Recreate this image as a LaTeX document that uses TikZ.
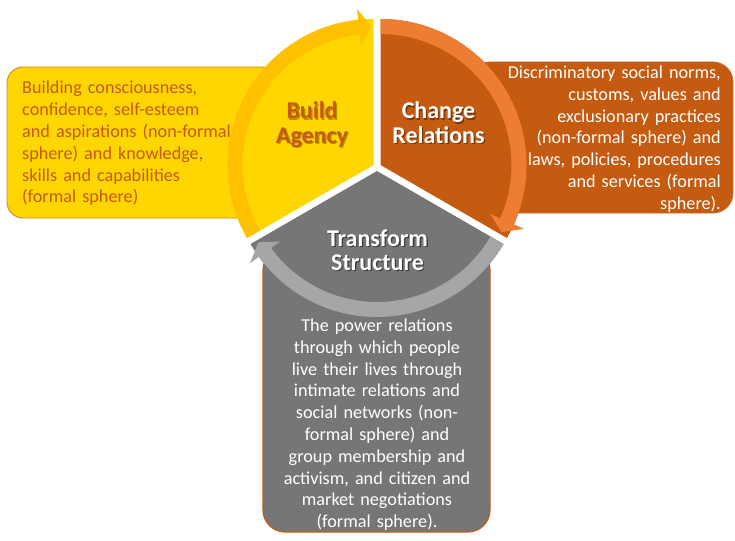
\documentclass[tikz,border=0pt]{standalone}
\usepackage{fontspec}
\setmainfont{Carlito}
\usetikzlibrary{calc}
\definecolor{yfill}{HTML}{FFD600}
\definecolor{yband}{HTML}{FFC000}
\definecolor{ofill}{HTML}{C55A11}
\definecolor{oband}{HTML}{ED7D31}
\definecolor{gfill}{HTML}{767676}
\definecolor{gband}{HTML}{A6A6A6}
\definecolor{otext}{HTML}{C55A11}
\definecolor{yborder}{HTML}{D08A1E}
\definecolor{oborder}{HTML}{D06A2A}
\definecolor{gborder}{HTML}{C55A11}
\definecolor{ysh}{HTML}{B89400}
\definecolor{osh}{HTML}{7A360A}
\definecolor{gsh}{HTML}{3C3C3C}
\newcommand\shadowed[2]{\leavevmode\rlap{\kern1.3pt\raisebox{-1.3pt}{\color{#1}\begin{tabular}[t]{@{}c@{}}#2\end{tabular}}}\begin{tabular}[t]{@{}c@{}}#2\end{tabular}}
\begin{document}
\begin{tikzpicture}[x=1pt,y=-1pt,
  body/.style={inner sep=0pt, font=\fontsize{18.2}{21.8}\selectfont},
  title/.style={inner sep=0pt, font=\bfseries\fontsize{24}{24.5}\selectfont, anchor=base},
  boxline/.style={line width=0.9pt}
]
\useasboundingbox (0,0) rectangle (735,540);
\coordinate (CY) at (373.5,165);
\coordinate (CO) at (380.5,165);
\coordinate (CG) at (377,171);
% text boxes
\draw[boxline, draw=yborder, fill=yfill, rounded corners=16pt] (7,67) rectangle (278,218);
\draw[boxline, draw=oborder, fill=ofill, rounded corners=20pt] (470,62) rectangle (733,213);
\draw[line width=1.2pt, draw=gborder, fill=gfill, rounded corners=22pt] (263,248) rectangle (490,532);
% sectors
\fill[yfill] (CY) -- ($(CY)+(-210:146)$) arc[start angle=-210, end angle=-90, radius=146] -- cycle;
\fill[ofill] (CO) -- ($(CO)+(-90:146)$) arc[start angle=-90, end angle=30, radius=146] -- cycle;
\fill[gfill] (CG) -- ($(CG)+(30:146)$) arc[start angle=30, end angle=150, radius=146] -- cycle;
% arc arrows
\fill[yband] ($(CY)+(-210:146)$) arc[start angle=-210, end angle=-96, radius=146]
  -- ($(CY)+(-96:157)$) -- ($(CY)+(-91:138.5)$) -- ($(CY)+(-96:120)$) -- ($(CY)+(-96:131)$)
  arc[start angle=-96, end angle=-210, radius=131] -- cycle;
\fill[oband] ($(CO)+(-90:146)$) arc[start angle=-90, end angle=24, radius=146]
  -- ($(CO)+(24:157)$) -- ($(CO)+(29:138.5)$) -- ($(CO)+(24:120)$) -- ($(CO)+(24:131)$)
  arc[start angle=24, end angle=-90, radius=131] -- cycle;
\fill[gband] ($(CG)+(30:146)$) arc[start angle=30, end angle=144, radius=146]
  -- ($(CG)+(144:157)$) -- ($(CG)+(149:138.5)$) -- ($(CG)+(144:120)$) -- ($(CG)+(144:131)$)
  arc[start angle=144, end angle=30, radius=131] -- cycle;
% titles
\node[title, text=otext] (build) at (312,119) {\shadowed{ysh}{Build\\Agency}};
\node[title, text=white] (change) at (438.5,119) {\shadowed{osh}{Change\\Relations}};
\node[title, text=white] (transform) at (377.5,246) {\shadowed{gsh}{Transform\\Structure}};
% body texts
\node[body, text=otext, text width=240pt, align=left, anchor=base west] (ltext) at (22,94)
  {Building consciousness,\\confidence, self-esteem\\and aspirations (non-formal\\sphere) and knowledge,\\skills and capabilities\\(formal sphere)};
\node[body, text=white, text width=240pt, align=right, anchor=base east] (rtext) at (721,78.5)
  {Discriminatory social norms,\\customs, values and\\exclusionary practices\\(non-formal sphere) and\\laws, policies, procedures\\and services (formal\\sphere).};
\node[body, text=white, text width=230pt, align=center, anchor=base] (btext) at (377,331.5)
  {The power relations\\through which people\\live their lives through\\intimate relations and\\social networks (non-\\formal sphere) and\\group membership and\\activism, and citizen and\\market negotiations\\(formal sphere).};
\end{tikzpicture}
\end{document}
